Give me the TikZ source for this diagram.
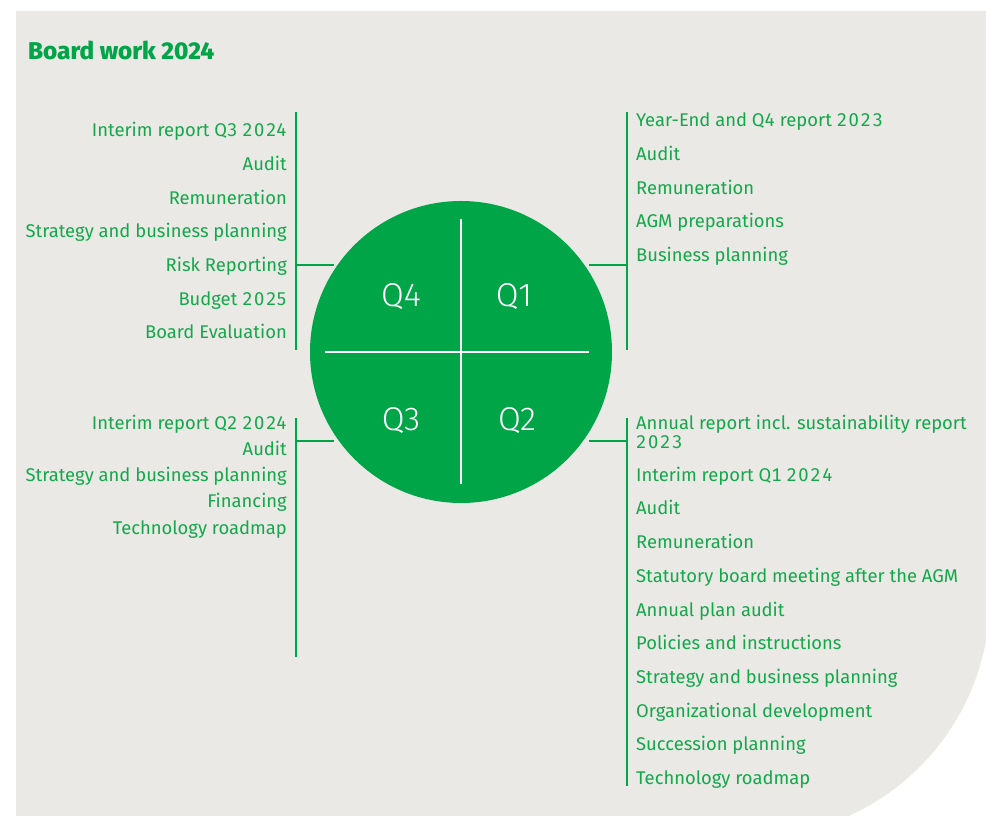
\documentclass[tikz,border=0pt]{standalone}
\usepackage{fontspec}
\setmainfont{Fira Sans}[Numbers=Monospaced]
\newfontfamily\qfont{Fira Sans Light}
\newfontfamily\tfont{Fira Sans ExtraBold}
\newcommand\numsp[1]{{\addfontfeature{LetterSpace=9}#1}}
\definecolor{bgc}{HTML}{EAE9E5}
\definecolor{grn}{HTML}{00A548}
\definecolor{txtg}{HTML}{14A84B}
\begin{document}
\begin{tikzpicture}[x=1pt,y=1pt,
 item/.style={text=txtg, font=\fontsize{18.4}{22}\selectfont, inner sep=0pt},
 itemL/.style={item, anchor=base east},
 itemR/.style={item, anchor=base west},
 bracket/.style={draw=grn, line width=2.2pt},
 cross/.style={draw=white, line width=2pt},
 qlab/.style={text=white, font=\qfont\fontsize{33}{36}\selectfont, inner sep=0pt, anchor=base}]
\useasboundingbox (0,0) rectangle (986,817);
% background panel with rounded bottom-right corner
\begin{scope}
\clip (16,1) rectangle (986,806);
\fill[bgc] (16,806) -- (986,806) -- (986,263.6) arc[start angle=10.5, end angle=-65.9, radius=240] -- (16,1) -- cycle;
\end{scope}
% title
\node[anchor=base west, inner sep=0pt, text=grn, font=\tfont\fontsize{24.3}{28}\selectfont] (title) at (28,757.7) {Board work 2024};
% circle
\node[circle, fill=grn, minimum size=302pt, inner sep=0pt] (circ) at (461,465) {};
\coordinate (vt) at (461,598);
\coordinate (vb) at (461,333);
\coordinate (hl) at (325,465);
\coordinate (hr) at (589,465);
\draw[cross] (vt) -- (vb);
\draw[cross] (hl) -- (hr);
\node[qlab] (q4) at (401,510.6) {Q4};
\node[qlab] (q1) at (514,510.6) {Q1};
\node[qlab] (q3) at (401,386.6) {Q3};
\node[qlab] (q2) at (517,386.6) {Q2};
% brackets
\coordinate (ltT) at (296,705); \coordinate (ltB) at (296,467);
\coordinate (ltM) at (296,552); \coordinate (ltC) at (334,552);
\coordinate (rtT) at (627,705); \coordinate (rtB) at (627,467);
\coordinate (rtM) at (627,552); \coordinate (rtC) at (589,552);
\coordinate (lbT) at (296,399); \coordinate (lbB) at (296,160);
\coordinate (lbM) at (296,376); \coordinate (lbC) at (334,376);
\coordinate (rbT) at (627,399); \coordinate (rbB) at (627,31);
\coordinate (rbM) at (627,376); \coordinate (rbC) at (589,376);
\draw[bracket] (ltT) -- (ltB); \draw[bracket] (ltM) -- (ltC);
\draw[bracket] (rtT) -- (rtB); \draw[bracket] (rtM) -- (rtC);
\draw[bracket] (lbT) -- (lbB); \draw[bracket] (lbM) -- (lbC);
\draw[bracket] (rbT) -- (rbB); \draw[bracket] (rbM) -- (rbC);
% Q4 items
\node[itemL] (a1) at (287,680.3) {Interim report Q\numsp{3} \numsp{202}4};
\node[itemL] (a2) at (287,646.6) {Audit};
\node[itemL] (a3) at (287,612.9) {Remuneration};
\node[itemL] (a4) at (287,579.2) {Strategy and business planning};
\node[itemL] (a5) at (287,545.5) {Risk Reporting};
\node[itemL] (a6) at (287,511.8) {Budget \numsp{202}5};
\node[itemL] (a7) at (287,478.1) {Board Evaluation};
% Q1 items
\node[itemR] (b1) at (636,690.3) {Year-End and Q\numsp{4} report \numsp{2023}};
\node[itemR] (b2) at (636,656.6) {Audit};
\node[itemR] (b3) at (636,622.9) {Remuneration};
\node[itemR] (b4) at (636,589.2) {AGM preparations};
\node[itemR] (b5) at (636,555.5) {Business planning};
% Q3 items
\node[itemL] (c1) at (287,387.7) {Interim report Q\numsp{2} \numsp{202}4};
\node[itemL] (c2) at (287,361.5) {Audit};
\node[itemL] (c3) at (287,335.3) {Strategy and business planning};
\node[itemL] (c4) at (287,309.1) {Financing};
\node[itemL] (c5) at (287,282.9) {Technology roadmap};
% Q2 items
\node[itemR] (d1) at (636,387.7) {Annual report incl. sustainability report};
\node[itemR] (d1b) at (636,368.7) {\numsp{2023}};
\node[itemR] (d2) at (636,335.3) {Interim report Q\numsp{1} \numsp{2024}};
\node[itemR] (d3) at (636,302) {Audit};
\node[itemR] (d4) at (636,268.3) {Remuneration};
\node[itemR] (d5) at (636,234.6) {Statutory board meeting after the AGM};
\node[itemR] (d6) at (636,200.9) {Annual plan audit};
\node[itemR] (d7) at (636,167.2) {Policies and instructions};
\node[itemR] (d8) at (636,133.5) {Strategy and business planning};
\node[itemR] (d9) at (636,99.8) {Organizational development};
\node[itemR] (d10) at (636,66.1) {Succession planning};
\node[itemR] (d11) at (636,32.4) {Technology roadmap};
\end{tikzpicture}
\end{document}
